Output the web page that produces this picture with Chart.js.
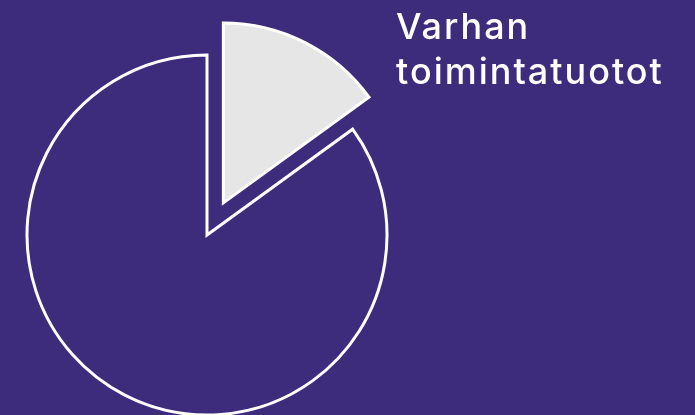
<!DOCTYPE html>
<html>
<head>
<meta charset="utf-8">
<script src="https://cdn.jsdelivr.net/npm/chart.js@4"></script>
<style>
  html, body { margin: 0; padding: 0; background: #3d2b7b; }
  #wrap { width: 695px; height: 415px; position: relative; }
</style>
</head>
<body>
<div id="wrap"><canvas id="myChart"></canvas></div>
<script>
const labels = ["Varhan toimintatuotot", "Muut"];
const values = [15, 85];
const explode = [36, 0];
const colors = ["#e6e6e6", "#3d2b7b"];

// moves the exploded slice out along its middle angle
const explodePlugin = {
  id: "explode",
  afterUpdate(chart) {
    const arcs = chart.getDatasetMeta(0).data;
    arcs.forEach((arc, i) => {
      const d = explode[i] || 0;
      const mid = (arc.startAngle + arc.endAngle) / 2;
      arc.x += Math.cos(mid) * d;
      arc.y += Math.sin(mid) * d;
    });
  },
};

// label of the first slice, top right
const labelPlugin = {
  id: "sliceLabel",
  afterDraw(chart) {
    const ctx = chart.ctx;
    ctx.save();
    ctx.fillStyle = "#ffffff";
    ctx.font = "500 36px Inter";
    ctx.letterSpacing = "2px";
    ctx.textBaseline = "alphabetic";
    const lines = labels[0].split(" ");
    lines.forEach((line, i) => {
      ctx.fillText(line, 396, 39 + i * 45);
    });
    ctx.restore();
  },
};

const config = {
  type: "pie",
  data: {
    labels: labels,
    datasets: [
      {
        data: values,
        backgroundColor: colors,
        borderColor: "#ffffff",
        borderWidth: 3,
        borderJoinStyle: "miter",
      },
    ],
  },
  options: {
    responsive: true,
    maintainAspectRatio: false,
    animation: false,
    events: [],
    radius: 180,
    layout: { padding: { left: 0, right: 281, top: 55, bottom: 0 } },
    plugins: {
      legend: { display: false },
      tooltip: { enabled: false },
    },
  },
  plugins: [explodePlugin, labelPlugin],
};

const myChart = new Chart(document.getElementById("myChart"), config);
</script>
</body>
</html>
